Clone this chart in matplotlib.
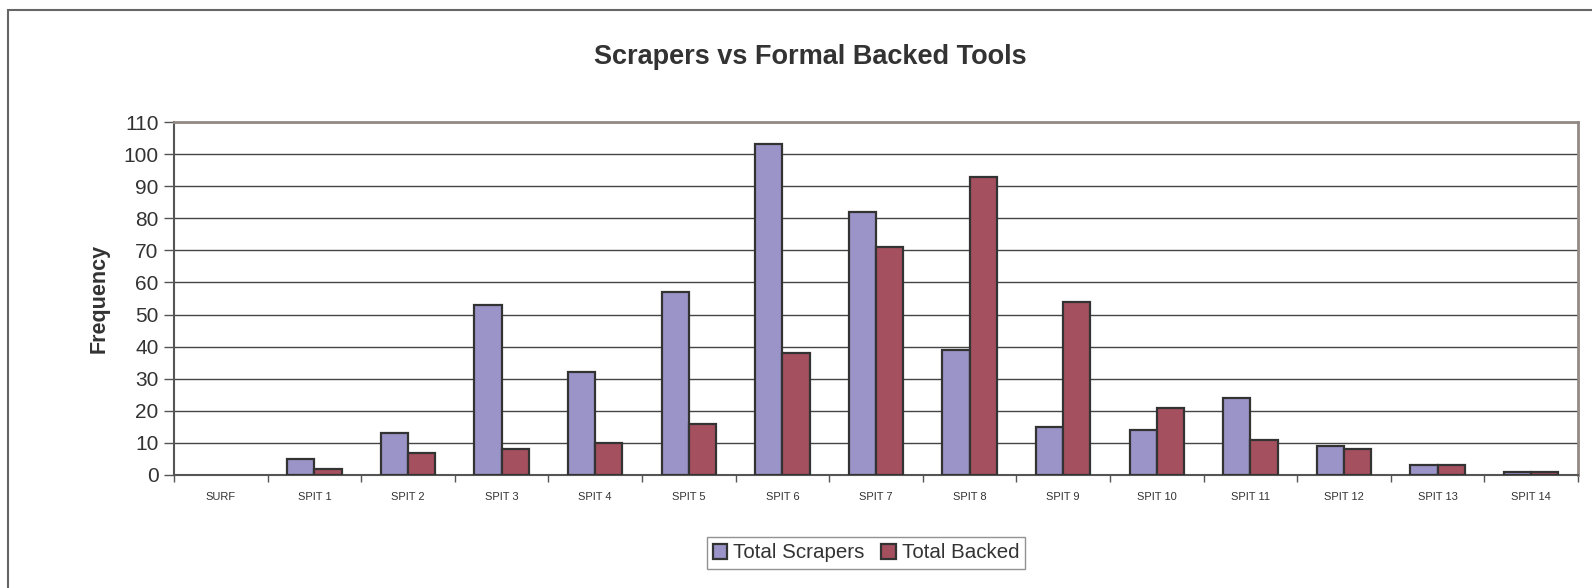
import matplotlib
matplotlib.use("Agg")
import matplotlib.pyplot as plt
from matplotlib.patches import Rectangle
import numpy as np

plt.rcParams['font.family'] = ['Liberation Sans', 'DejaVu Sans']

# data
categories = ["SURF", "SPIT 1", "SPIT 2", "SPIT 3", "SPIT 4", "SPIT 5", "SPIT 6",
              "SPIT 7", "SPIT 8", "SPIT 9", "SPIT 10", "SPIT 11", "SPIT 12",
              "SPIT 13", "SPIT 14"]
total_scrapers = [0, 5, 13, 53, 32, 57, 103, 82, 39, 15, 14, 24, 9, 3, 1]
total_backed = [0, 2, 7, 8, 10, 16, 38, 71, 93, 54, 21, 11, 8, 3, 1]
y_ticks = list(range(0, 111, 10))

W, H = 1592, 588
fig = plt.figure(figsize=(W / 100, H / 100), dpi=100)
ax = fig.add_axes([174 / W, 1 - 475 / H, (1578 - 174) / W, (475 - 122) / H])

# outer chart frame (cut off at right and bottom)
fig.patches.append(Rectangle((8 / W, -0.1), 1.2, 1 - 10 / H + 0.1,
                             transform=fig.transFigure, fill=False,
                             edgecolor="#666666", linewidth=1.5))

x = np.arange(len(categories))
bw = 0.29
# empty bars get no outline, as in the original
lw_s = [1.6 if v > 0 else 0 for v in total_scrapers]
lw_b = [1.6 if v > 0 else 0 for v in total_backed]
ax.bar(x - bw / 2, total_scrapers, bw, color="#9A94C8", edgecolor="#333333",
       linewidth=lw_s, label="Total Scrapers", zorder=3)
ax.bar(x + bw / 2, total_backed, bw, color="#A5505F", edgecolor="#333333",
       linewidth=lw_b, label="Total Backed", zorder=3)

ax.set_xlim(-0.5, len(categories) - 0.5)
ax.set_ylim(0, 110)
ax.set_yticks(y_ticks)
ax.tick_params(axis="y", labelsize=15, length=7, width=1, color="#555555",
               labelcolor="#333333", pad=4)
ax.yaxis.grid(True, color="#444444", linewidth=1)
ax.set_axisbelow(True)

# x ticks at category boundaries, labels at centres
ax.set_xticks(np.arange(-0.5, len(categories), 1.0))
ax.set_xticklabels([])
ax.set_xticks(x, minor=True)
ax.set_xticklabels(categories, minor=True, fontsize=8, color="#333333")
ax.tick_params(axis="x", which="major", length=5, width=1, color="#555555")
ax.tick_params(axis="x", which="minor", length=0, pad=12)

for side in ("top", "right"):
    ax.spines[side].set_color("#948A85")
    ax.spines[side].set_linewidth(2)
for side in ("left", "bottom"):
    ax.spines[side].set_color("#555555")
    ax.spines[side].set_linewidth(1.5)

ax.set_ylabel("Frequency", fontsize=15.5, fontweight="bold", color="#333333",
              labelpad=10)
fig.text(810 / W, 1 - 57 / H, "Scrapers vs Formal Backed Tools", fontsize=19.5,
         fontweight="bold", color="#333333", ha="center", va="center")

leg = fig.legend(loc="center", bbox_to_anchor=(866 / W, 1 - 553 / H), ncol=2,
                 fontsize=14.8, frameon=True, fancybox=False, borderpad=0.3,
                 handlelength=0.7, handleheight=0.7, handletextpad=0.3,
                 columnspacing=0.8, borderaxespad=0)
leg.get_frame().set_edgecolor("#777777")
leg.get_frame().set_linewidth(1)
for h in leg.legend_handles:
    h.set_linewidth(1.6)
    h.set_edgecolor("#333333")
for t in leg.get_texts():
    t.set_color("#333333")

fig.savefig("out.png", dpi=100, facecolor="white")
